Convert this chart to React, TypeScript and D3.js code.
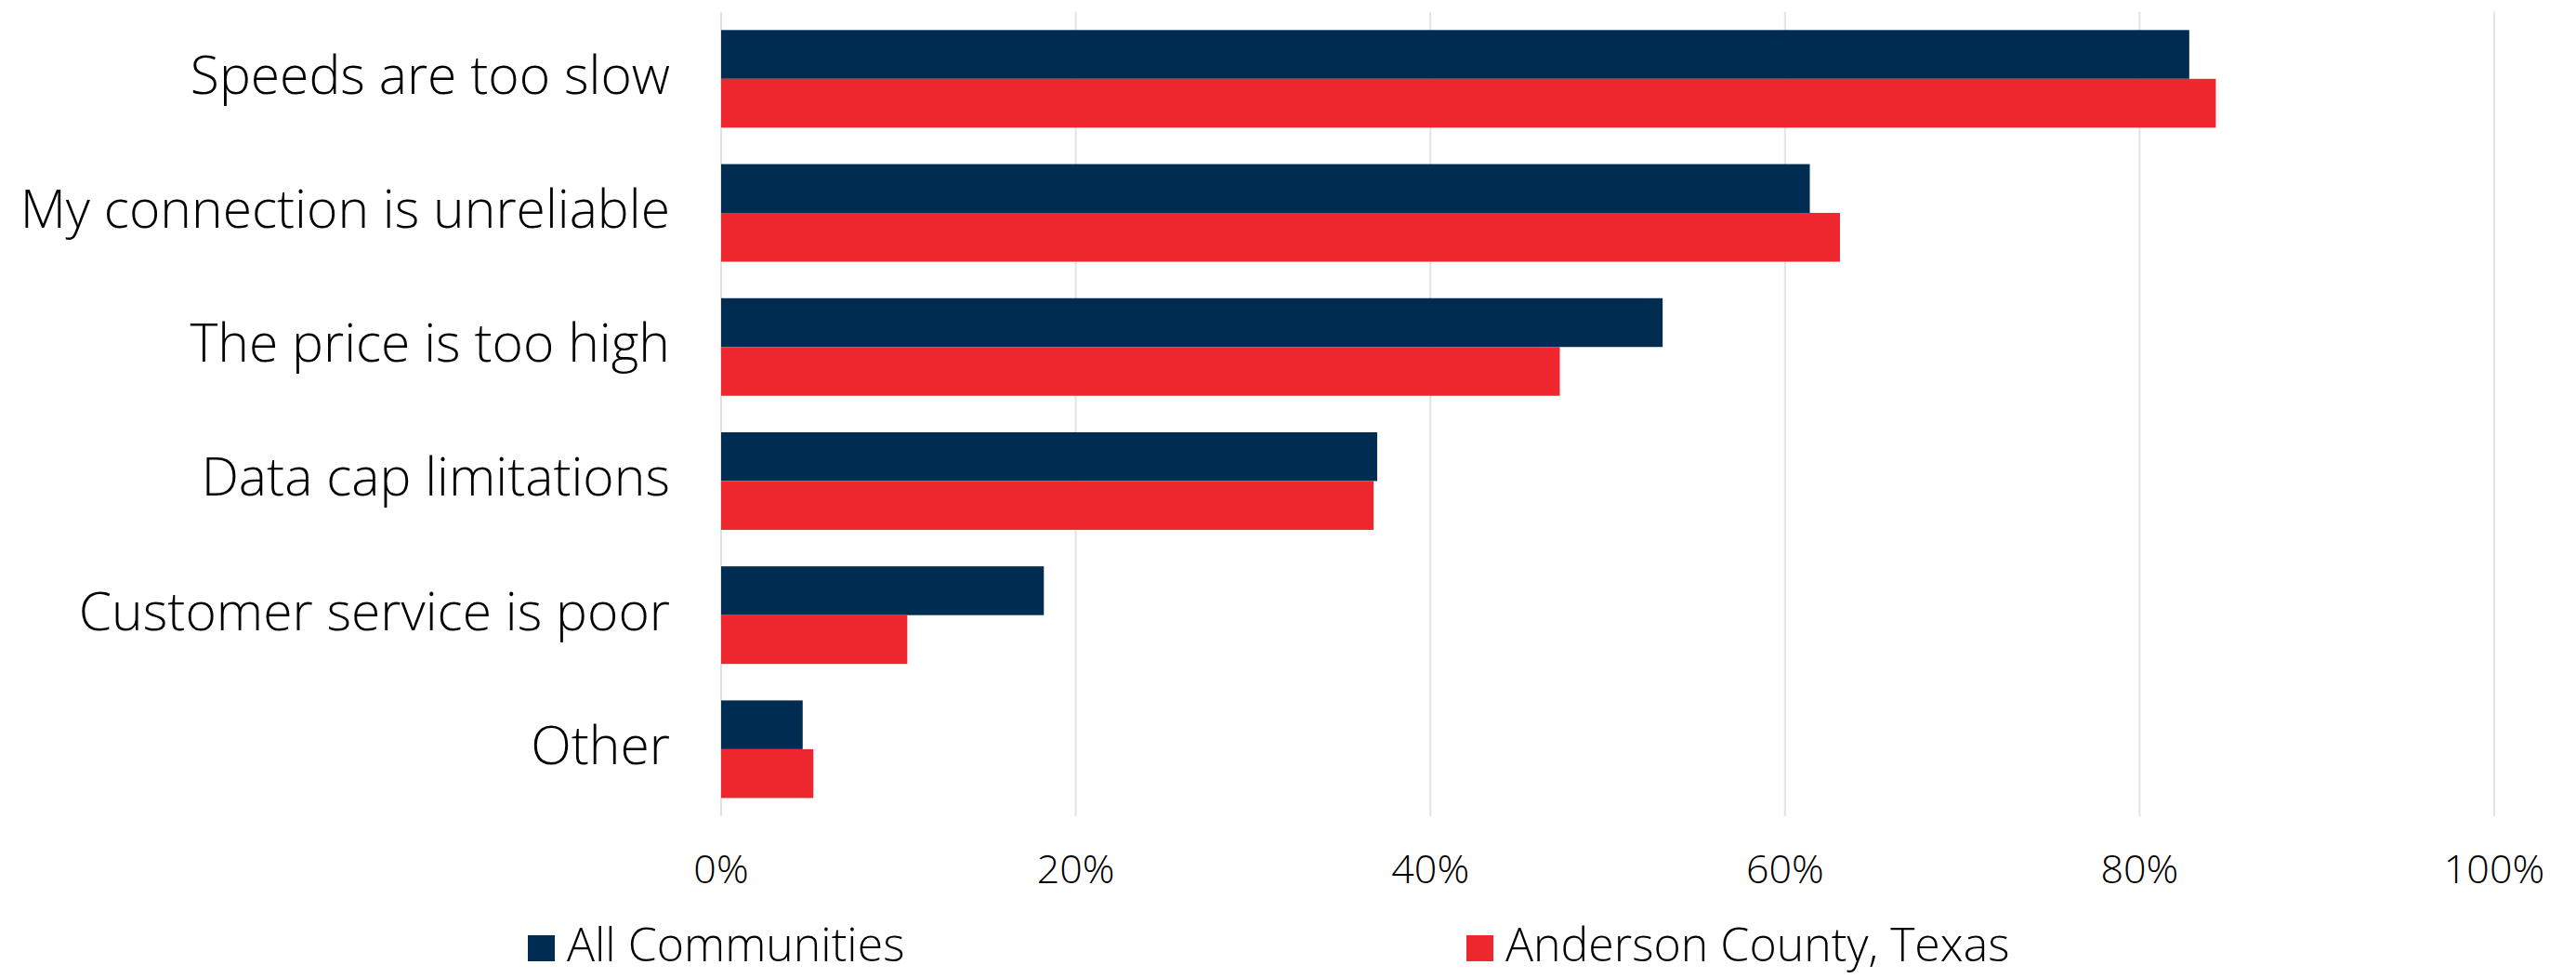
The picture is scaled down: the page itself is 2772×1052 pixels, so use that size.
import React from 'react';
import * as d3 from 'd3';

// values (percent)
const categories = [
  "Speeds are too slow",
  "My connection is unreliable",
  "The price is too high",
  "Data cap limitations",
  "Customer service is poor",
  "Other",
];
const allCommunities = [82.8, 61.4, 53.1, 37.0, 18.2, 4.6];
const andersonCounty = [84.3, 63.1, 47.3, 36.8, 10.5, 5.2];
const seriesNames = ["All Communities", "Anderson County, Texas"];
const seriesColors = ["#012C51", "#EE272E"];
const xTicks = [0, 20, 40, 60, 80, 100];

const width = 2772;
const height = 1052;
const font = "'Open Sans', 'Noto Sans', sans-serif";

const App: React.FC = () => {
  const x = d3.scaleLinear().domain([0, 100]).range([776, 2684]);
  const y = d3.scaleBand<string>()
    .domain(categories)
    .range([12.7, 878])
    .paddingInner(0.272)
    .paddingOuter(0.136);
  const inner = d3.scaleBand<number>()
    .domain([0, 1])
    .range([0, y.bandwidth()]);

  const series = [allCommunities, andersonCounty];
  const [top, bottom] = y.range();

  // legend entries: square + text, positioned like the original
  const legendX = [568, 1578];

  return (
    <div style={{ position: 'absolute', left: 0, top: 0 }}>
      <svg width={width} height={height} style={{ display: 'block', background: '#fff' }}>
        {/* vertical gridlines */}
        <g>
          {xTicks.map(t => (
            <line key={t} x1={x(t)} x2={x(t)} y1={top} y2={bottom}
              stroke="#e3e3e3" strokeWidth={2} />
          ))}
        </g>

        {/* bars */}
        {series.map((vals, si) => (
          <g key={si} fill={seriesColors[si]}>
            {categories.map((c, i) => (
              <rect key={c}
                x={x(0)}
                y={(y(c) ?? 0) + (inner(si) ?? 0)}
                width={x(vals[i]) - x(0)}
                height={inner.bandwidth()} />
            ))}
          </g>
        ))}

        {/* category labels */}
        <g fontFamily={font} fontWeight={300} fontSize={57} fill="#000" textAnchor="end">
          {categories.map(c => (
            <text key={c} x={721} y={(y(c) ?? 0) + y.bandwidth() / 2} dy="0.28em">{c}</text>
          ))}
        </g>

        {/* x tick labels */}
        <g fontFamily={font} fontWeight={300} fontSize={43} fill="#000" textAnchor="middle">
          {xTicks.map(t => (
            <text key={t} x={x(t)} y={950}>{`${t}%`}</text>
          ))}
        </g>

        {/* legend */}
        <g fontFamily={font} fontWeight={300} fontSize={50} fill="#000">
          {seriesNames.map((name, i) => (
            <g key={name} transform={`translate(${legendX[i]},1034)`}>
              <rect x={0} y={-28} width={29} height={28} fill={seriesColors[i]} />
              <text x={42} y={0}>{name}</text>
            </g>
          ))}
        </g>
      </svg>
    </div>
  );
};

export default App;
